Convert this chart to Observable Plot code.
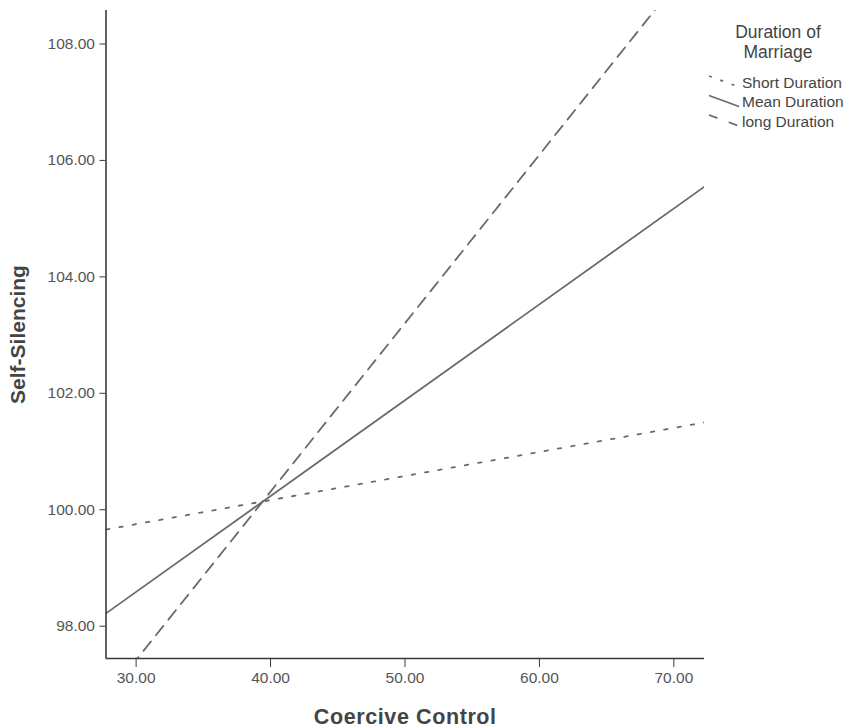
<!DOCTYPE html>
<html>
<head>
<meta charset="utf-8">
<script src="https://cdn.jsdelivr.net/npm/d3@7"></script>
<script src="https://cdn.jsdelivr.net/npm/@observablehq/plot@0.6"></script>
<style>
  html, body { margin: 0; padding: 0; background: #fff; }
  #wrap { position: relative; width: 849px; height: 728px; font-family: "Liberation Sans", Arial, sans-serif; }
  #legend { position: absolute; left: 0; top: 0; }
</style>
</head>
<body>
<div id="wrap"></div>
<script>
// ---- data ----
const coerciveControl = [27.76, 72.28];          // x endpoints of each fitted line
const shortDuration   = [99.66, 101.50];
const meanDuration    = [98.22, 105.55];
const longDuration    = [96.77, 109.65];
const seriesNames     = ["Short Duration", "Mean Duration", "long Duration"];
const xTicks = [30, 40, 50, 60, 70];
const yTicks = [98, 100, 102, 104, 106, 108];
const xDomain = [27.76, 72.28];
const yDomain = [97.445, 108.575];
const legendTitle = ["Duration of", "Marriage"];

const series = [shortDuration, meanDuration, longDuration];
const rows = [];
series.forEach((vals, i) => {
  vals.forEach((v, j) => rows.push({ name: seriesNames[i], x: coerciveControl[j], y: v }));
});

const styles = {
  "Short Duration": "3.5,10",
  "Mean Duration": null,
  "long Duration": "12,8"
};

const lineColor = "#6a6a6a";
const fmt = d3.format(".2f");

const marks = [
  ...seriesNames.map(n => Plot.line(rows.filter(r => r.name === n), {
    x: "x", y: "y", stroke: lineColor, strokeWidth: 1.8,
    strokeDasharray: styles[n], clip: true
  })),
  Plot.ruleX([xDomain[0]], { stroke: "#3a3a3a", strokeWidth: 1.6 }),
  Plot.ruleY([yDomain[0]], { stroke: "#3a3a3a", strokeWidth: 1.6 }),
  Plot.axisY({ ticks: yTicks, tickFormat: fmt, tickSize: 6, tickPadding: 5, fontSize: 15.5, label: null, stroke: "#3a3a3a", color: "#555" }),
  Plot.axisX({ ticks: xTicks, tickFormat: fmt, tickSize: 9, tickPadding: 4, fontSize: 15.5, label: null, stroke: "#3a3a3a", color: "#555" }),
  Plot.text(["Self-Silencing"], { frameAnchor: "left", dx: -88, rotate: -90, textAnchor: "middle", lineAnchor: "middle", fontSize: 21, fontWeight: "bold", fill: "#444" }),
  Plot.text(["Coercive Control"], { frameAnchor: "bottom", dy: 59, textAnchor: "middle", lineAnchor: "middle", fontSize: 21.5, fontWeight: "bold", fill: "#444" })
];

const chart = Plot.plot({
  width: 849,
  height: 728,
  marginLeft: 105.5,
  marginRight: 145,
  marginTop: 10,
  marginBottom: 70,
  x: { domain: xDomain },
  y: { domain: yDomain },
  style: { fontFamily: "'Liberation Sans', Arial, sans-serif", background: "#fff", overflow: "visible" },
  marks
});
document.getElementById("wrap").appendChild(chart);
d3.select(chart).selectAll("text").filter(function () { return this.textContent === "Coercive Control"; })
  .style("letter-spacing", "0.6px");

// ---- legend ----
const lg = d3.select("#wrap").append("svg")
  .attr("id", "legend").attr("width", 849).attr("height", 140)
  .style("font-family", "'Liberation Sans', Arial, sans-serif");
legendTitle.forEach((t, i) => {
  lg.append("text").attr("x", 778).attr("y", 38 + i * 19.5)
    .attr("text-anchor", "middle").attr("font-size", 17.5).attr("fill", "#444").text(t);
});
seriesNames.forEach((n, i) => {
  const cy = 82 + i * 19.5;
  lg.append("line").attr("x1", 709).attr("y1", cy - 6).attr("x2", 739).attr("y2", cy + 5)
    .attr("stroke", lineColor).attr("stroke-width", 1.7)
    .attr("stroke-dasharray", n === "Short Duration" ? "3,9" : n === "long Duration" ? "9,12" : null);
  lg.append("text").attr("x", 742).attr("y", cy + 5.5)
    .attr("font-size", 15.5).attr("fill", "#444").text(n);
});
</script>
</body>
</html>
